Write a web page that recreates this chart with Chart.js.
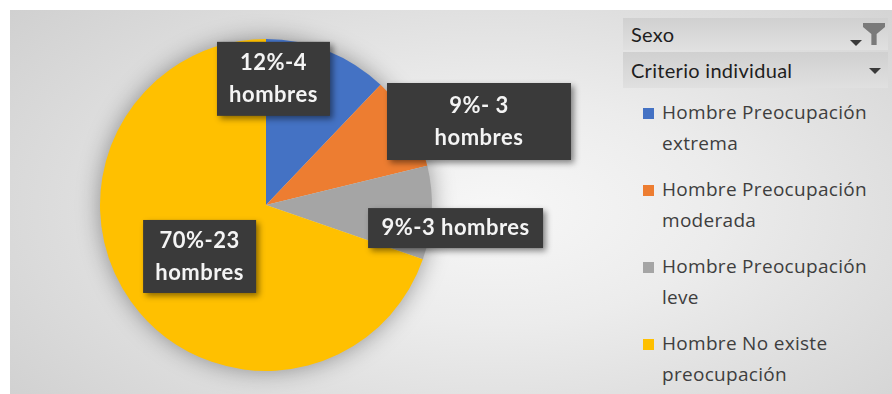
<!DOCTYPE html>
<html>
<head>
<meta charset="utf-8">
<script src="https://cdn.jsdelivr.net/npm/chart.js@4.4.0/dist/chart.umd.min.js"></script>
<style>
  html, body { margin: 0; padding: 0; background: #ffffff; }
  #wrap {
    position: absolute; left: 10px; top: 10px; width: 882px; height: 384px;
    background: radial-gradient(ellipse 72% 85% at 55% 52%, #f7f7f7 0%, #ececec 35%, #dcdcdc 70%, #cfcfcf 100%);
    overflow: hidden;
  }
  #chartBox { position: absolute; left: -10px; top: -10px; width: 620px; height: 394px; }
  #legend { position: absolute; left: 613px; top: 8px; width: 265px; height: 376px; font-family: "Open Sans", sans-serif; }
  .field {
    position: relative; height: 32px; margin-bottom: 2px;
    background: linear-gradient(#d0d0d0, #e0e0e0);
    font-family: Lato, sans-serif; font-size: 20px; color: #1e1e1e;
    line-height: 32px; padding-left: 8px; letter-spacing: 0.3px;
  }
  .field.second { height: 36px; line-height: 36px; }
  .arrow {
    position: absolute; width: 0; height: 0;
    border-left: 6px solid transparent; border-right: 6px solid transparent;
    border-top: 6px solid #3a3a3a;
  }
  .funnel {
    position: absolute; right: 3px; top: 5px; width: 22px; height: 22px; background: #7a7a7a;
    clip-path: polygon(0 0, 100% 0, 100% 18%, 62% 50%, 62% 100%, 38% 100%, 38% 50%, 0 18%);
  }
  .item { position: absolute; left: 20px; width: 250px; font-size: 19px; letter-spacing: 0.3px; color: #3e3e3e; line-height: 31px; }
  .swatch { position: absolute; left: 0; top: 11px; width: 11px; height: 11px; }
  .item span.txt { display: block; padding-left: 19px; }
</style>
</head>
<body>
<div id="wrap">
  <div id="chartBox"><canvas id="pie"></canvas></div>
  <div id="legend">
    <div class="field">Sexo<div class="arrow" style="right:26px;top:22px;"></div><div class="funnel"></div></div>
    <div class="field second">Criterio individual<div class="arrow" style="right:7px;top:16px;"></div></div>
  </div>
</div>
<script>
// Criterio individual (hombres)
var categories = ['Hombre Preocupación extrema', 'Hombre Preocupación moderada', 'Hombre Preocupación leve', 'Hombre No existe preocupación'];
var legendLines = [['Hombre Preocupación', 'extrema'], ['Hombre Preocupación', 'moderada'], ['Hombre Preocupación', 'leve'], ['Hombre No existe', 'preocupación']];
var hombres = [4, 3, 3, 23];
var colors = ['#4472C4', '#ED7D31', '#A5A5A5', '#FFC000'];

// label text per slice: {p} = percent, {v} = count, | = line break
var labelFormats = ['{p}%-{v}|hombres', '{p}%- {v}|hombres', '{p}%-{v} hombres', '{p}%-{v}|hombres'];
// label box centre as a fraction of the radius from the pie centre, and box size
var labelPlace = [
    { fx: 0.045, fy: -0.76, w: 113, h: 74 },
    { fx: 1.283, fy: -0.503, w: 184, h: 77 },
    { fx: 1.142, fy: 0.139, w: 175, h: 40 },
    { fx: -0.40, fy: 0.31, w: 113, h: 73 }
];

var total = hombres.reduce(function (a, b) { return a + b; }, 0);

function labelText(i) {
    var p = Math.round(hombres[i] / total * 100);
    return labelFormats[i].replace('{p}', p).replace('{v}', hombres[i]).split('|');
}

// legend entries
var legend = document.getElementById('legend');
for (let i = 0; i < categories.length; i++) {
    var item = document.createElement('div');
    item.className = 'item';
    item.style.top = (79 + i * 77) + 'px';
    item.title = categories[i];
    item.innerHTML = '<div class="swatch" style="background:' + colors[i] + '"></div><span class="txt">' + legendLines[i].join('<br>') + '</span>';
    legend.appendChild(item);
}

// soft shadow behind the whole pie
const pieShadow = {
    id: 'pieShadow',
    beforeDatasetsDraw(chart) {
        var arc = chart.getDatasetMeta(0).data[0];
        if (!arc) return;
        var ctx = chart.ctx;
        ctx.save();
        ctx.shadowColor = 'rgba(0,0,0,0.4)';
        ctx.shadowBlur = 24;
        ctx.fillStyle = '#d8d8d8';
        ctx.beginPath();
        ctx.arc(arc.x, arc.y, arc.outerRadius - 1, 0, Math.PI * 2);
        ctx.fill();
        ctx.restore();
    }
};

// dark callout boxes with the values
const valueBoxes = {
    id: 'valueBoxes',
    afterDatasetsDraw(chart) {
        var ctx = chart.ctx;
        var meta = chart.getDatasetMeta(0);
        meta.data.forEach(function (arc, i) {
            var pl = labelPlace[i];
            var cx = arc.x + pl.fx * arc.outerRadius;
            var cy = arc.y + pl.fy * arc.outerRadius;
            ctx.save();
            ctx.shadowColor = 'rgba(0,0,0,0.45)';
            ctx.shadowBlur = 6;
            ctx.shadowOffsetX = 3;
            ctx.shadowOffsetY = 3;
            ctx.fillStyle = '#3a3a3a';
            ctx.fillRect(cx - pl.w / 2, cy - pl.h / 2, pl.w, pl.h);
            ctx.restore();

            var lines = labelText(i);
            ctx.save();
            ctx.fillStyle = '#f4f4f4';
            ctx.font = 'bold 22px Lato';
            ctx.letterSpacing = '0.5px';
            ctx.textAlign = 'center';
            ctx.textBaseline = 'middle';
            var lh = 32;
            var y0 = cy - (lines.length - 1) * lh / 2;
            lines.forEach(function (t, k) {
                ctx.fillText(t, cx, y0 + k * lh);
            });
            ctx.restore();
        });
    }
};

new Chart(document.getElementById('pie').getContext('2d'), {
    type: 'pie',
    data: {
        labels: categories,
        datasets: [{
            data: hombres,
            backgroundColor: colors,
            borderWidth: 0
        }]
    },
    options: {
        responsive: true,
        maintainAspectRatio: false,
        animation: false,
        layout: { padding: { left: 100, right: 188, top: 39, bottom: 23 } },
        plugins: {
            legend: { display: false },
            tooltip: { enabled: false }
        }
    },
    plugins: [pieShadow, valueBoxes]
});
</script>
</body>
</html>
